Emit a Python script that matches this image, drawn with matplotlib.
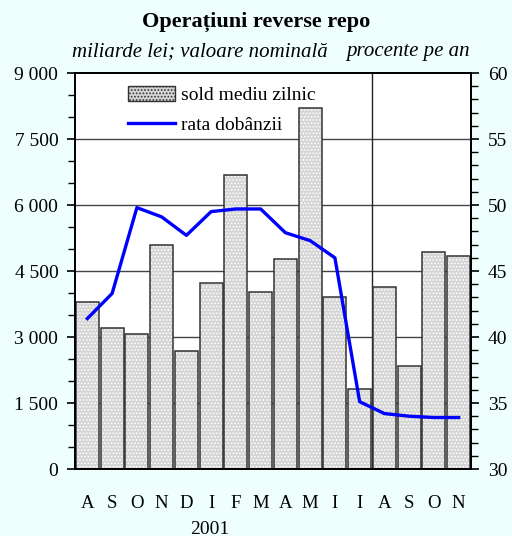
import numpy as np
import matplotlib
matplotlib.use("Agg")
import matplotlib.pyplot as plt
from matplotlib.ticker import MultipleLocator, FuncFormatter
from matplotlib.patches import Patch
from matplotlib.lines import Line2D

# data
months = ["A", "S", "O", "N", "D", "I", "F", "M", "A", "M", "I", "I", "A", "S", "O", "N"]
sold = [3800, 3200, 3070, 5100, 2680, 4230, 6680, 4030, 4770, 8200,
        3910, 1810, 4140, 2340, 4930, 4840]
rata = [41.4, 43.3, 49.8, 49.1, 47.7, 49.5, 49.7, 49.7, 47.9, 47.3,
        46.0, 35.1, 34.2, 34.0, 33.9, 33.9]

plt.rcParams['font.family'] = ['Liberation Serif', 'DejaVu Serif']
plt.rcParams['hatch.linewidth'] = 0.8

bg = '#eefffd'
fig = plt.figure(figsize=(5.12, 5.36), dpi=100, facecolor=bg)
ax = fig.add_axes([0.1465, 0.125, 0.7735, 0.7388])
ax.set_facecolor('white')

x = np.arange(len(months))

# grid lines behind the bars
for v in range(1500, 9000, 1500):
    ax.axhline(v, color='#444444', lw=1, zorder=0)
ax.axvline(11.5, color='#222222', lw=1, zorder=0)

# dotted fill, then outline
ax.bar(x, sold, width=0.93, color='#d4d4d4', hatch='.....', edgecolor='white',
       linewidth=0, zorder=2)
ax.bar(x, sold, width=0.93, fill=False, edgecolor='#333333', linewidth=1.1, zorder=3)

ax.set_xlim(-0.5, 15.5)
ax.set_ylim(0, 9000)
ax.yaxis.set_major_locator(MultipleLocator(1500))
ax.yaxis.set_minor_locator(MultipleLocator(500))
ax.yaxis.set_major_formatter(FuncFormatter(lambda v, p: f"{int(v):,}".replace(",", " ")))
ax.set_xticks(x)
ax.set_xticklabels(months, fontsize=13.5)
ax.tick_params(axis='x', length=0, pad=19)
ax.tick_params(axis='y', which='major', direction='out', length=6, width=1.2, labelsize=14, pad=6)
ax.tick_params(axis='y', which='minor', direction='out', length=5, width=1)
for s in ax.spines.values():
    s.set_linewidth(1.3)

ax2 = ax.twinx()
ax2.plot(x, rata, color='#0000ff', lw=2.4, zorder=5)
ax2.set_ylim(30, 60)
ax2.yaxis.set_major_locator(MultipleLocator(5))
ax2.yaxis.set_minor_locator(MultipleLocator(1))
ax2.tick_params(axis='y', which='major', direction='out', length=6, width=1.2, labelsize=14, pad=6)
ax2.tick_params(axis='y', which='minor', direction='out', length=5, width=1)
for s in ax2.spines.values():
    s.set_linewidth(1.3)

handles = [Patch(facecolor='#d4d4d4', edgecolor='#333333', hatch='.....', label='sold mediu zilnic'),
           Line2D([], [], color='#0000ff', lw=2.4, label='rata dobânzii')]
ax2.legend(handles=handles, loc='upper left', bbox_to_anchor=(0.134, 0.967), frameon=False,
           fontsize=14, handlelength=2.4, handleheight=0.8, handletextpad=0.3,
           labelspacing=0.58, borderpad=0, borderaxespad=0)

fig.text(0.5, 0.960, "Operațiuni reverse repo", ha='center', va='center',
         fontsize=16, fontweight='bold')
fig.text(0.141, 0.903, "miliarde lei; valoare nominală", ha='left', va='center',
         fontsize=15, style='italic')
fig.text(0.918, 0.903, "procente pe an", ha='right', va='center',
         fontsize=15, style='italic')
fig.text(0.41, 0.013, "2001", ha='center', va='center', fontsize=14)

fig.savefig("out.png", dpi=100, facecolor=bg)
